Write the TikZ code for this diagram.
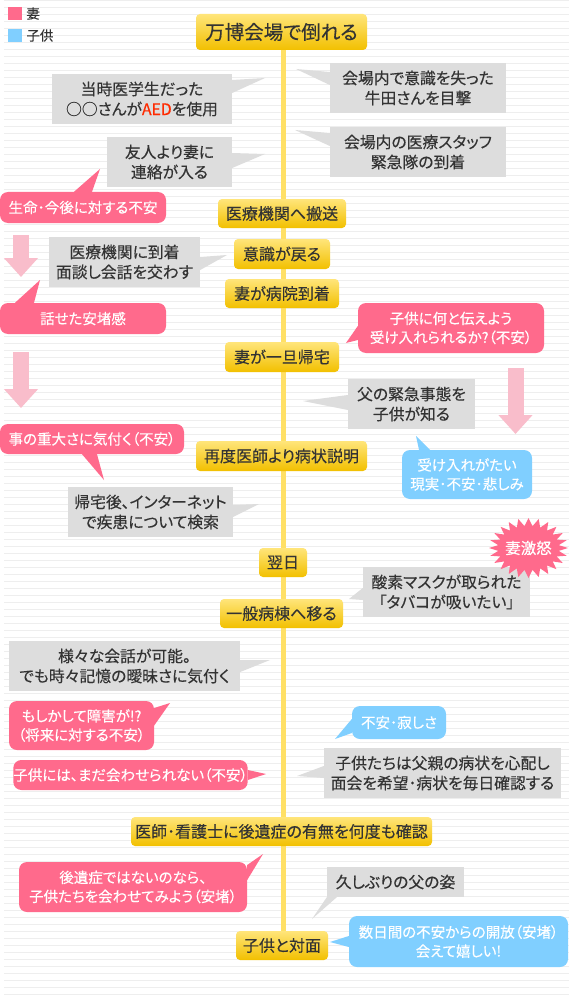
\documentclass[tikz,border=0pt]{standalone}
\usepackage{fontspec}
\setmainfont{Noto Sans CJK JP}[RawFeature=+palt, RawFeature={embolden=0.3}]
\usepackage{xcolor}
\usetikzlibrary{arrows.meta, positioning, calc, backgrounds}

\definecolor{wifec}{HTML}{FF6A8C}
\definecolor{kidc}{HTML}{80CFFF}
\definecolor{noteGrey}{HTML}{DDDDDD}
\definecolor{ink}{HTML}{333333}
\definecolor{tlTop}{HTML}{FFE57A}
\definecolor{tlBot}{HTML}{F2C000}
\definecolor{spinec}{HTML}{FFE066}
\definecolor{stripec}{HTML}{EEEEEE}
\definecolor{arrowc}{HTML}{F9BDCB}
\definecolor{aedred}{HTML}{FF2A00}

\begin{document}
\begin{tikzpicture}[
  x=1pt, y=-1pt,
  every node/.style={inner sep=0pt, text=ink},
  tlbox/.style={rounded corners=4pt, top color=tlTop, bottom color=tlBot, font=\fontsize{16}{19}\selectfont},
  notebox/.style={fill=noteGrey, align=center, font=\fontsize{15.8}{20}\selectfont},
  wifebox/.style={fill=wifec, rounded corners=8pt, align=center, text=white, font=\fontsize{14.5}{19}\selectfont},
  kidbox/.style={fill=kidc, rounded corners=8pt, align=center, text=white, font=\fontsize{14.5}{19}\selectfont},
  notetail/.style={fill=noteGrey},
  wifetail/.style={fill=wifec},
  kidtail/.style={fill=kidc},
  spine/.style={draw=spinec, line width=5pt},
  downarrow/.style={draw=arrowc, line width=16pt, -{Triangle[length=19pt 0 0, width=33pt 0 0]}},
  stripe/.style={draw=stripec, line width=1.5pt},
  legendkey/.style={minimum width=14pt, minimum height=13pt},
  legendtext/.style={font=\fontsize{13.5}{15}\selectfont},
]
\useasboundingbox (0,0) rectangle (573,995);

% Ruled paper
\begin{scope}[on background layer]
  \fill[white] (0,0) rectangle (573,995);
  \foreach \k in {0,...,142}
    \draw[stripe] (4,7*\k+0.5) -- (569,7*\k+0.5);
\end{scope}

% Legend
\node[legendkey, fill=wifec] (keywife) at (15,13.5) {};
\node[legendtext, right=4pt of keywife] (labwife) {妻};
\node[legendkey, fill=kidc] (keykid) at (15,35.5) {};
\node[legendtext, right=4pt of keykid] (labkid) {子供};

% Timeline
\node[tlbox, minimum width=171pt, minimum height=36pt, font=\fontsize{19.5}{22}\selectfont] (collapse) at (281.5,32) {万博会場で倒れる};
\node[tlbox, minimum width=128pt, minimum height=29pt] (transport) at (282,213.5) {医療機関へ搬送};
\node[tlbox, minimum width=96pt, minimum height=30pt] (awake) at (282,254) {意識が戻る};
\node[tlbox, minimum width=114pt, minimum height=29pt] (arrive) at (282,293.5) {妻が病院到着};
\node[tlbox, minimum width=114pt, minimum height=30pt] (home) at (282,357) {妻が一旦帰宅};
\node[tlbox, minimum width=171pt, minimum height=30pt] (explain) at (281.5,456) {再度医師より病状説明};
\node[tlbox, minimum width=48pt, minimum height=29pt] (nextday) at (283,562.5) {翌日};
\node[tlbox, minimum width=123pt, minimum height=29pt] (ward) at (281.5,613.5) {一般病棟へ移る};
\node[tlbox, minimum width=301pt, minimum height=29pt] (confirm) at (281.5,831.5) {医師･看護士に後遺症の有無を何度も確認};
\node[tlbox, minimum width=92pt, minimum height=29pt] (meet) at (282,945.5) {子供と対面};

\begin{scope}[on background layer]
  \draw[spine] ([xshift=2pt]collapse.south) -- ([xshift=1.5pt]meet.north);
\end{scope}

% Facts
\node[notebox, minimum width=180pt, minimum height=50pt] (aed) at (142,99) {当時医学生だった\\○○さんが\textcolor{aedred}{AED}を使用};
\node[notebox, minimum width=125pt, minimum height=50pt] (contact) at (169.5,162) {友人より妻に\\連絡が入る};
\node[notebox, minimum width=176pt, minimum height=50pt] (witness) at (418,88) {会場内で意識を失った\\牛田さんを目撃};
\node[notebox, minimum width=176pt, minimum height=50pt] (staff) at (418,152) {会場内の医療スタッフ\\緊急隊の到着};
\node[notebox, minimum width=151pt, minimum height=50pt] (talk) at (124.5,262) {医療機関に到着\\面談し会話を交わす};
\node[notebox, minimum width=127pt, minimum height=50pt] (know) at (411.5,404) {父の緊急事態を\\子供が知る};
\node[notebox, minimum width=165pt, minimum height=50pt] (search) at (150.5,512) {帰宅後、インターネット\\で疾患について検索};
\node[notebox, minimum width=167pt, minimum height=50pt] (mask) at (446.5,592) {酸素マスクが取られた\\「タバコが吸いたい」};
\node[notebox, minimum width=231pt, minimum height=50pt] (chat) at (124.5,666) {様々な会話が可能。\\でも時々記憶の曖昧さに気付く};
\node[notebox, minimum width=237pt, minimum height=50pt] (worry) at (442.5,773) {子供たちは父親の病状を心配し\\面会を希望･病状を毎日確認する};
\node[notebox, minimum width=137pt, minimum height=30pt] (figure) at (395.5,882) {久しぶりの父の姿};

% Wife
\node[wifebox, minimum width=166pt, minimum height=31pt] (fear) at (83,207.5) {生命･今後に対する不安};
\node[wifebox, minimum width=166pt, minimum height=31pt] (relief) at (83,318.5) {話せた安堵感};
\node[wifebox, minimum width=186pt, minimum height=50pt] (tell) at (451,328) {子供に何と伝えよう\\受け入れられるか?（不安）};
\node[wifebox, minimum width=184pt, minimum height=30pt] (grave) at (92,439) {事の重大さに気付く（不安）};
\node[wifebox, minimum width=145pt, minimum height=49pt] (maybe) at (81.5,725.5) {もしかして障害が!?\\（将来に対する不安）};
\node[wifebox, minimum width=233pt, minimum height=30pt] (notyet) at (130.5,775) {子供には、まだ会わせられない（不安）};
\node[wifebox, minimum width=228pt, minimum height=50pt] (try) at (133,887) {後遺症ではないのなら、\\子供たちを会わせてみよう（安堵）};

% Children
\node[kidbox, minimum width=130pt, minimum height=49pt] (shock) at (467,474.5) {受け入れがたい\\現実･不安･悲しみ};
\node[kidbox, minimum width=94pt, minimum height=33pt] (lonely) at (399,722.5) {不安･寂しさ};
\node[kidbox, minimum width=219pt, minimum height=51pt] (joy) at (458.5,941.5) {数日間の不安からの開放（安堵）\\会えて嬉しい!};

% Rage burst
\fill[wifec, shift={(528.5,548)}] (0:39.5 and 30)
  \foreach \i in {1,...,47} { -- ({\i*7.5}:{39.5-9*mod(\i,2)} and {30-8*mod(\i,2)}) } -- cycle;
\node[text=white, font=\fontsize{15.5}{18}\selectfont] (rage) at (528.5,548) {妻激怒};

% Tail tips
\coordinate (aed tip) at (265,78);
\coordinate (contact tip) at (265,154);
\coordinate (witness tip) at (296,69);
\coordinate (staff tip) at (295,130);
\coordinate (talk tip) at (227,255);
\coordinate (know tip) at (303,401);
\coordinate (search tip) at (259,504);
\coordinate (mask tip) at (349,599);
\coordinate (chat tip) at (270,660);
\coordinate (worry tip) at (297,776);
\coordinate (figure tip) at (312,919);
\coordinate (fear tip) at (100,169);
\coordinate (relief tip) at (40,280);
\coordinate (tell tip) at (346,343);
\coordinate (grave tip) at (104,480);
\coordinate (maybe tip) at (170,703);
\coordinate (notyet tip) at (266,774);
\coordinate (try tip) at (263,854);
\coordinate (shock tip) at (416,436);
\coordinate (lonely tip) at (335,739);
\coordinate (joy tip) at (330,942);

% Tails
\fill[notetail] ($(aed.east)+(0,-19)$) -- (aed tip) -- ($(aed.east)+(0,-6)$) -- cycle;
\fill[notetail] ($(contact.east)+(0,-9)$) -- (contact tip) -- ($(contact.east)+(0,6)$) -- cycle;
\fill[notetail] ($(witness.west)+(0,-16)$) -- (witness tip) -- ($(witness.west)+(0,-3)$) -- cycle;
\fill[notetail] ($(staff.west)+(0,-19)$) -- (staff tip) -- ($(staff.west)+(0,-6)$) -- cycle;
\fill[notetail] ($(talk.east)+(0,-5)$) -- (talk tip) -- ($(talk.east)+(0,8)$) -- cycle;
\fill[notetail] ($(know.west)+(0,-9)$) -- (know tip) -- ($(know.west)+(0,6)$) -- cycle;
\fill[notetail] ($(search.east)+(0,-7)$) -- (search tip) -- ($(search.east)+(0,5)$) -- cycle;
\fill[notetail] ($(mask.west)+(0,-4)$) -- (mask tip) -- ($(mask.west)+(0,8)$) -- cycle;
\fill[notetail] ($(chat.east)+(0,-6)$) -- (chat tip) -- ($(chat.east)+(0,6)$) -- cycle;
\fill[notetail] ($(worry.west)+(0,-7)$) -- (worry tip) -- ($(worry.west)+(0,5)$) -- cycle;
\fill[notetail] (figure.south west) -- (figure tip) -- ($(figure.south west)+(10,0)$) -- cycle;
\fill[wifetail] ($(fear.north)+(-9,0)$) -- (fear tip) -- ($(fear.north)+(9,0)$) -- cycle;
\fill[wifetail] ($(relief.north)+(-68,0)$) -- (relief tip) -- ($(relief.north)+(-49,0)$) -- cycle;
\fill[wifetail] ($(tell.west)+(0,-2)$) -- (tell tip) -- ($(tell.west)+(0,12)$) -- cycle;
\fill[wifetail] ($(grave.south)+(-10,0)$) -- (grave tip) -- ($(grave.south)+(5,0)$) -- cycle;
\fill[wifetail] ($(maybe.east)+(0,-17.5)$) -- (maybe tip) -- ($(maybe.east)+(0,0)$) -- cycle;
\fill[wifetail] ($(notyet.east)+(0,-5)$) -- (notyet tip) -- ($(notyet.east)+(0,5)$) -- cycle;
\fill[wifetail] ($(try.east)+(0,-22)$) -- (try tip) -- ($(try.east)+(0,-7)$) -- cycle;
\fill[kidtail] ($(shock.north)+(-48,0)$) -- (shock tip) -- ($(shock.north)+(-37,0)$) -- cycle;
\fill[kidtail] ($(lonely.west)+(0,-3.5)$) -- (lonely tip) -- ($(lonely.west)+(0,10.5)$) -- cycle;
\fill[kidtail] ($(joy.west)+(0,-5.5)$) -- (joy tip) -- ($(joy.west)+(0,5.5)$) -- cycle;

% Feeling arrows
\coordinate (down1 top) at (21,235);
\coordinate (down1 tip) at (21,277);
\coordinate (down2 top) at (21,352);
\coordinate (down2 tip) at (21,408);
\coordinate (down3 top) at (515.5,368);
\coordinate (down3 tip) at (515.5,434);
\draw[downarrow] (down1 top) -- (down1 tip);
\draw[downarrow] (down2 top) -- (down2 tip);
\draw[downarrow] (down3 top) -- (down3 tip);

\end{tikzpicture}
\end{document}
